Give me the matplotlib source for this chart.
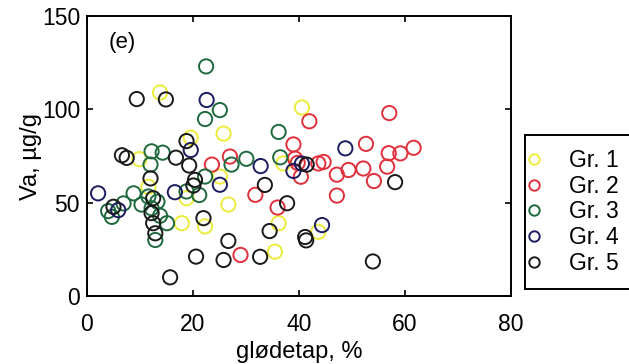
import matplotlib
matplotlib.use("Agg")
import matplotlib.pyplot as plt
from matplotlib.lines import Line2D

plt.rcParams['font.family'] = ['Liberation Sans', 'DejaVu Sans']

groups = ["Gr. 1", "Gr. 2", "Gr. 3", "Gr. 4", "Gr. 5"]
colors = ["#ecec3c", "#e0303c", "#1e6a3e", "#1c1c60", "#1a1a1a"]

g1_x = [13.8, 25.8, 9.9, 11.6, 19.6, 25.1, 18.8, 17.9, 22.3, 26.7, 40.6, 37.1, 36.2, 43.7, 35.5]
g1_y = [109, 87, 73.3, 58.5, 84.8, 64, 52.4, 39, 37.3, 49, 101, 71, 39, 34.4, 23.7]

g2_x = [23.6, 27.0, 29.0, 42.0, 39.0, 39.3, 39.8, 40.4, 43.7, 44.7, 47.2, 47.2, 31.8, 36.0,
        57.1, 52.7, 57.0, 59.2, 61.7, 56.7, 49.4, 52.2, 54.2]
g2_y = [70.4, 74.7, 22, 93.6, 81.2, 73.6, 71.3, 63.9, 71, 71.8, 65, 53.8, 54.2, 47.4,
        98, 81.5, 76.5, 76.4, 79.4, 69.3, 67.5, 68.3, 61.6]

g3_x = [22.5, 25.1, 22.3, 12.2, 14.3, 12.0, 8.8, 11.6, 13.3, 6.9, 4.7, 4.0, 10.3, 12.2, 13.8,
        12.9, 22.3, 18.8, 21.2, 15.1, 27.3, 30.1, 36.2, 36.5]
g3_y = [123, 99.6, 94.8, 77.5, 76.8, 70.4, 55, 53.3, 50.5, 49.6, 42.4, 45.5, 49, 47, 43,
        30, 64, 56, 54.1, 39, 70.4, 73.5, 87.9, 74.3]

g4_x = [22.6, 19.6, 25.1, 16.6, 2.1, 5.9, 32.8, 40.6, 39.0, 44.4, 48.8]
g4_y = [105, 78.2, 59.6, 55.6, 55, 46, 69.6, 70.9, 67, 38, 79.1]

g5_x = [9.4, 14.9, 18.8, 6.6, 7.5, 16.8, 19.3, 12.0, 20.4, 20.1, 12.5, 5.0, 12.2, 12.5, 12.9,
        15.7, 22.0, 26.7, 20.6, 25.8, 41.5, 33.6, 37.8, 34.5, 41.2, 41.4, 32.7, 58.2, 54.0]
g5_y = [105.5, 105.3, 83, 75.4, 74, 74.1, 69.9, 63, 62.2, 59.2, 52.4, 47.8, 44.4, 39, 33.6,
        10, 41.7, 29.5, 21.1, 19.3, 70.4, 59.5, 49.7, 34.8, 31.6, 29.8, 21, 61, 18.5]

xs = [g1_x, g2_x, g3_x, g4_x, g5_x]
ys = [g1_y, g2_y, g3_y, g4_y, g5_y]

x_ticks = [0, 20, 40, 60, 80]
y_ticks = [0, 50, 100, 150]

W, H = 629, 364
fig = plt.figure(figsize=(W / 100, H / 100), dpi=100)
ax = fig.add_axes([87 / W, 1 - 296 / H, (510.5 - 87) / W, (296 - 16) / H])

for x, y, c in zip(xs, ys, colors):
    ax.scatter(x, y, s=105, facecolors='none', edgecolors=c, linewidths=1.4, zorder=3)

ax.set_xlim(0, 80)
ax.set_ylim(0, 150)
ax.set_xticks(x_ticks)
ax.set_yticks(y_ticks)
ax.tick_params(direction='in', length=4, width=1.2, top=True, right=True,
               labelsize=16.5)
ax.tick_params(axis='x', pad=12)
ax.tick_params(axis='y', pad=5)
for sp in ax.spines.values():
    sp.set_linewidth(1.4)
ax.set_xlabel("glødetap, %", fontsize=17, labelpad=4)
ax.set_ylabel("Va, µg/g", fontsize=17, labelpad=0)
ax.text(0.083, 0.905, "(e)", transform=ax.transAxes, fontsize=16, ha='center', va='center')

# legend box (extends past the right edge)
lax = fig.add_axes([525 / W, 1 - 289 / H, 130 / W, (289 - 135) / H])
lax.set_xticks([])
lax.set_yticks([])
for sp in lax.spines.values():
    sp.set_linewidth(1.4)
handles = [Line2D([], [], linestyle='none', marker='o', markersize=7.5, markerfacecolor='none',
                  markeredgecolor=c, markeredgewidth=1.4) for c in colors]
lax.legend(handles, groups, loc='center left', frameon=False, fontsize=16.5,
           handlelength=0.8, handletextpad=1.1, labelspacing=0.12,
           borderpad=0.0, borderaxespad=0.0)

fig.savefig("out.png", dpi=100)
